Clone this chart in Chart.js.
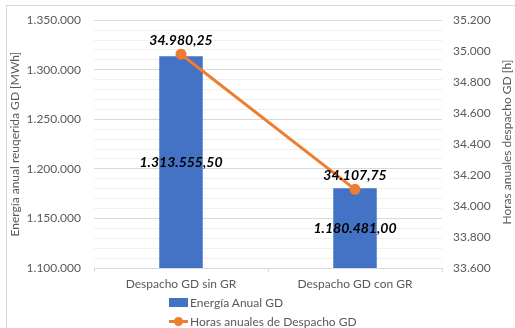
<!DOCTYPE html>
<html>
<head>
<meta charset="utf-8">
<script src="https://cdn.jsdelivr.net/npm/chart.js@4.4.1/dist/chart.umd.min.js"></script>
<style>
  body { margin: 0; background: #fff; font-family: Lato, sans-serif; }
  #wrap { position: relative; width: 515px; height: 328px; overflow: hidden; }
  #frame { position: absolute; left: 6px; top: 5px; right: -5px; bottom: -5px;
           border-left: 1px solid #d9d9d9; border-top: 1px solid #d9d9d9; pointer-events: none; }
  #y2title { position: absolute; left: 506px; top: 142px; white-space: nowrap;
             transform: translate(-50%, -50%) rotate(-90deg); font-size: 12px; color: #595959; }
  #legend { position: absolute; left: 169px; top: 293px; font-size: 12px; color: #595959; }
  .item { display: flex; align-items: center; height: 19px; }
  .mark { position: relative; width: 19px; height: 19px; margin-right: 2px; }
  .box { position: absolute; left: 0; top: 5px; width: 19px; height: 9px; }
  .ln { position: absolute; left: 0; top: 8px; width: 19px; height: 3px; }
  .dot { position: absolute; left: 5px; top: 5px; width: 9px; height: 9px; border-radius: 50%; }
</style>
</head>
<body>
<div id="wrap">
  <canvas id="chart" width="515" height="328"></canvas>
  <div id="frame"></div>
  <div id="y2title">Horas anuales despacho GD [h]</div>
  <div id="legend"></div>
</div>
<script>
// data
const categories = ['Despacho GD sin GR', 'Despacho GD con GR'];
const energia = [1313555.50, 1180481.00];
const horas = [34980.25, 34107.75];
const seriesNames = ['Energía Anual GD', 'Horas anuales de Despacho GD'];
const leftTitle = 'Energía anual reuqerida GD [MWh]';

const blue = '#4472C4';
const orange = '#ED7D31';

// number format like 1.313.555,50
function fmt(v, d) {
    const s = v.toFixed(d).split('.');
    const i = s[0].replace(/\B(?=(\d{3})+(?!\d))/g, '.');
    return s[1] ? i + ',' + s[1] : i;
}

// value labels (bars: centered, line: above point)
const valueLabels = {
    id: 'valueLabels',
    afterDatasetsDraw(chart) {
        const ctx = chart.ctx;
        ctx.save();
        ctx.font = 'italic bold 14px Lato';
        ctx.fillStyle = '#000';
        ctx.textAlign = 'center';
        ctx.textBaseline = 'middle';
        chart.data.datasets.forEach((ds, di) => {
            chart.getDatasetMeta(di).data.forEach((el, i) => {
                const txt = fmt(ds.data[i], 2);
                const p = el.getProps(['x', 'y', 'base'], true);
                if (ds.type === 'bar') {
                    const base = chart.scales.y.getPixelForValue(chart.scales.y.min);
                    ctx.fillText(txt, p.x, (p.y + base) / 2);
                } else {
                    ctx.fillText(txt, p.x, p.y - 14);
                }
            });
        });
        ctx.restore();
    }
};

const myChart = new Chart(document.getElementById('chart'), {
    plugins: [valueLabels],
    data: {
        labels: categories,
        datasets: [
            {
                type: 'line',
                label: seriesNames[1],
                data: horas,
                yAxisID: 'y2',
                borderColor: orange,
                backgroundColor: orange,
                borderWidth: 3,
                pointRadius: 5.5,
                pointBorderWidth: 0,
                order: 0
            },
            {
                type: 'bar',
                label: seriesNames[0],
                data: energia,
                yAxisID: 'y',
                backgroundColor: blue,
                barPercentage: 0.25,
                categoryPercentage: 1,
                order: 1
            }
        ]
    },
    options: {
        responsive: false,
        animation: false,
        layout: { padding: { top: 17, left: 0, right: 0, bottom: 0 } },
        plugins: {
            legend: { display: false },
            tooltip: { enabled: false }
        },
        scales: {
            x: {
                offset: true,
                afterFit: (s) => { s.height = 60; },
                grid: { drawOnChartArea: false, tickLength: 4, color: '#d9d9d9', offset: true },
                border: { color: '#d9d9d9' },
                ticks: { color: '#595959', font: { family: 'Lato', size: 12 }, padding: 5 }
            },
            y: {
                position: 'left',
                min: 1100000,
                max: 1350000,
                afterFit: (s) => { s.width = 94; },
                border: { display: false },
                grid: {
                    drawTicks: false,
                    color: (c) => (c.tick && c.tick.value % 50000 === 0) ? '#d9d9d9' : '#f0f0f0'
                },
                ticks: {
                    stepSize: 10000,
                    autoSkip: false,
                    padding: 13,
                    color: '#595959',
                    font: { family: 'Lato', size: 12 },
                    callback: (v) => v % 50000 === 0 ? fmt(v, 0) : ''
                },
                title: {
                    display: true,
                    text: leftTitle,
                    color: '#595959',
                    font: { family: 'Lato', size: 12 },
                    padding: { top: 8, bottom: 0 }
                }
            },
            y2: {
                position: 'right',
                min: 33600,
                max: 35200,
                afterFit: (s) => { s.width = 73; },
                border: { display: false },
                grid: { drawOnChartArea: false, drawTicks: false },
                ticks: {
                    stepSize: 200,
                    autoSkip: false,
                    padding: 11,
                    color: '#595959',
                    font: { family: 'Lato', size: 12 },
                    callback: (v) => fmt(v, 0)
                }
            }
        }
    }
});

// legend stacked vertically, built from the datasets
const legend = document.getElementById('legend');
[1, 0].forEach((di) => {
    const ds = myChart.data.datasets[di];
    const item = document.createElement('div');
    item.className = 'item';
    const mark = document.createElement('div');
    mark.className = 'mark';
    if (ds.type === 'bar') {
        mark.innerHTML = '<div class="box" style="background:' + ds.backgroundColor + '"></div>';
    } else {
        mark.innerHTML = '<div class="ln" style="background:' + ds.borderColor + '"></div>' +
            '<div class="dot" style="background:' + ds.backgroundColor + '"></div>';
    }
    const txt = document.createElement('span');
    txt.textContent = ds.label;
    item.appendChild(mark);
    item.appendChild(txt);
    legend.appendChild(item);
});
</script>
</body>
</html>
